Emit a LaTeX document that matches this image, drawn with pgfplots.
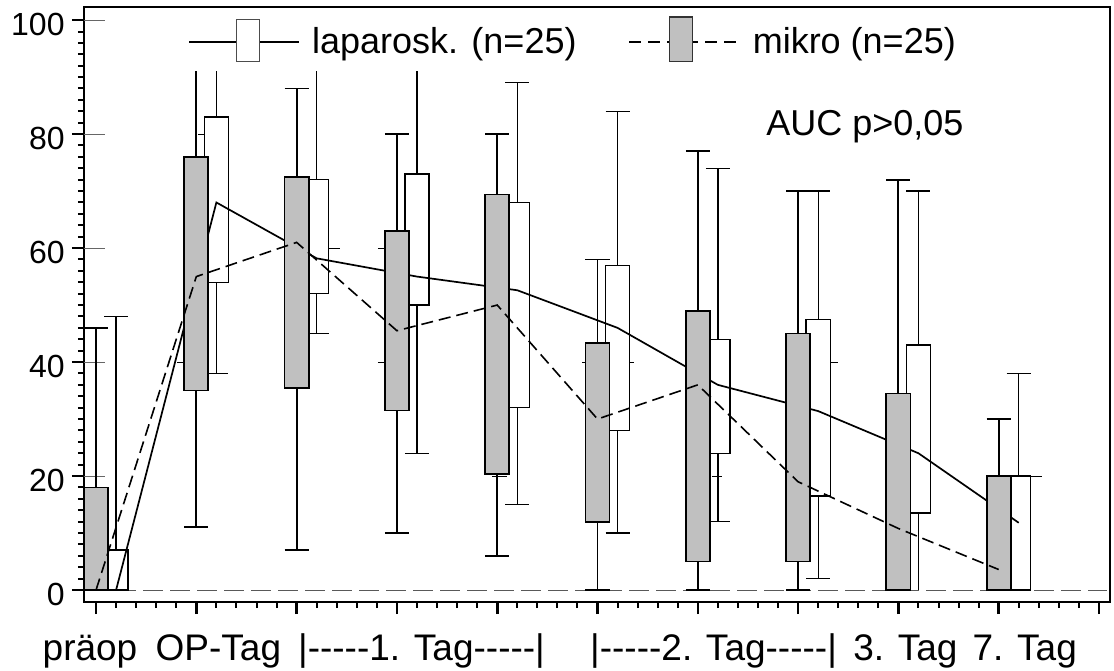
\documentclass[border=0pt]{standalone}
\usepackage{fontspec}
\setmainfont{Liberation Sans}
\usepackage{pgfplots}
\pgfplotsset{compat=1.18}
\definecolor{silver}{RGB}{192,192,192}
\newcommand{\hy}{\mbox{-}}
\begin{document}
\begin{tikzpicture}
\path[use as bounding box] (0,0) rectangle (557pt,335pt);
\begin{axis}[
  at={(42pt,34pt)}, anchor=south west,
  scale only axis, width=513pt, height=297.5pt,
  xmin=-0.12, xmax=10.11, ymin=-2.1, ymax=102.3,
  clip=false, unbounded coords=jump,
  axis line style={line width=0.7pt},
  tick pos=left, tick align=outside,
  xtick={0,1,...,10}, xticklabels={}, minor x tick num=4,
  ytick={0,20,...,100}, minor y tick num=9,
  major tick length=6pt, minor tick length=3pt,
  major tick style={line width=1.3pt, black},
  minor tick style={line width=1pt, black},
  extra y ticks={0,20,...,100}, extra y tick labels={},
  extra y tick style={tick align=inside, major tick length=10.5pt, major tick style={line width=0.5pt, black!60}},
  yticklabel style={font=\fontsize{16}{19}\selectfont, inner sep=0pt, xshift=-3.5pt, yshift=-2pt},
  /pgf/number format/assume math mode=true,
  legend columns=2,
  legend style={at={(axis cs:0.917,96.66)}, anchor=west, draw=none, fill=none, inner sep=0pt,
    font=\fontsize{18}{21}\selectfont,
    /tikz/every odd column/.append style={column sep=4pt},
    /tikz/every even column/.append style={column sep=24pt}},
  legend cell align=left,
]
% legend
\addlegendimage{legend image code/.code={
  \draw[line width=0.85pt, black] (0pt,0pt) -- (55pt,0pt);
  \draw[line width=0.5pt, draw=black!70, fill=white] (23.8pt,-9.7pt) rectangle (35.2pt,11.3pt);
}}
\addlegendentry{laparosk. (n=25)}
\addlegendimage{legend image code/.code={
  \draw[line width=0.8pt, black, dash pattern=on 6pt off 3.5pt] (0pt,0pt) -- (54pt,0pt);
  \draw[line width=0.6pt, draw=black!80, fill=silver] (20pt,-9.7pt) rectangle (31.5pt,12.5pt);
  \path (55.5pt,0pt);
}}
\addlegendentry{mikro (n=25)}

% zero reference line
\addplot[forget plot, black!65, line width=0.5pt, dash pattern=on 10pt off 3.5pt] coordinates {(0.2,0) (10.08,0)};

% ---- laparosk. (white) ----
\addplot[forget plot, black, line width=0.65pt] coordinates {
 (0.2,0) (0.2,48) (nan,nan) (1.2,38) (1.2,91) (nan,nan) (2.2,45) (2.2,91) (nan,nan)
 (3.2,24) (3.2,91) (nan,nan) (4.2,15) (4.2,89) (nan,nan) (5.2,10) (5.2,84) (nan,nan)
 (6.2,12) (6.2,74) (nan,nan) (7.2,2) (7.2,70) (nan,nan) (8.2,0) (8.2,70) (nan,nan)
 (9.2,0) (9.2,38)};
\addplot[forget plot, black, line width=0.65pt] coordinates {
 (0.08,48) (0.32,48) (nan,nan) (1.08,38) (1.32,38) (nan,nan) (2.08,45) (2.32,45) (nan,nan)
 (3.08,24) (3.32,24) (nan,nan) (4.08,15) (4.32,15) (nan,nan) (4.08,89) (4.32,89) (nan,nan)
 (5.08,10) (5.32,10) (nan,nan) (5.08,84) (5.32,84) (nan,nan) (6.08,12) (6.32,12) (nan,nan)
 (6.08,74) (6.32,74) (nan,nan) (7.08,2) (7.32,2) (nan,nan) (7.08,70) (7.32,70) (nan,nan)
 (8.08,70) (8.32,70) (nan,nan) (9.08,38) (9.32,38)};
\addplot[forget plot, draw=black, fill=white, line width=0.65pt] coordinates {(0.08,0) (0.32,0) (0.32,7) (0.08,7)} -- cycle;
\addplot[forget plot, draw=black, fill=white, line width=0.65pt] coordinates {(1.08,54) (1.32,54) (1.32,83) (1.08,83)} -- cycle;
\addplot[forget plot, draw=black, fill=white, line width=0.65pt] coordinates {(2.08,52) (2.32,52) (2.32,72) (2.08,72)} -- cycle;
\addplot[forget plot, draw=black, fill=white, line width=0.65pt] coordinates {(3.08,50) (3.32,50) (3.32,73) (3.08,73)} -- cycle;
\addplot[forget plot, draw=black, fill=white, line width=0.65pt] coordinates {(4.08,32) (4.32,32) (4.32,68) (4.08,68)} -- cycle;
\addplot[forget plot, draw=black, fill=white, line width=0.65pt] coordinates {(5.08,28) (5.32,28) (5.32,57) (5.08,57)} -- cycle;
\addplot[forget plot, draw=black, fill=white, line width=0.65pt] coordinates {(6.08,24) (6.32,24) (6.32,44) (6.08,44)} -- cycle;
\addplot[forget plot, draw=black, fill=white, line width=0.65pt] coordinates {(7.08,16.5) (7.32,16.5) (7.32,47.5) (7.08,47.5)} -- cycle;
\addplot[forget plot, draw=black, fill=white, line width=0.65pt] coordinates {(8.08,13.5) (8.32,13.5) (8.32,43) (8.08,43)} -- cycle;
\addplot[forget plot, draw=black, fill=white, line width=0.65pt] coordinates {(9.08,0) (9.32,0) (9.32,20) (9.08,20)} -- cycle;

% mean line laparosk.
\addplot[forget plot, black, line width=0.85pt] coordinates {
 (0.2,0) (1.2,68) (2.2,58.2) (3.2,55) (4.2,52.6) (5.2,46) (6.2,36) (7.2,31.4) (8.2,24) (9.2,11.8)};

% ---- mikro (gray) ----
\addplot[forget plot, black, line width=0.9pt] coordinates {
 (0,0) (0,46) (nan,nan) (1,11) (1,91) (nan,nan) (2,7) (2,88) (nan,nan)
 (3,10) (3,80) (nan,nan) (4,6) (4,80) (nan,nan) (5,0) (5,58) (nan,nan)
 (6,0) (6,77) (nan,nan) (7,0) (7,70) (nan,nan) (8,0) (8,72) (nan,nan)
 (9,0) (9,30)};
\addplot[forget plot, black, line width=0.9pt] coordinates {
 (-0.12,46) (0.12,46) (nan,nan) (0.88,11) (1.12,11) (nan,nan) (1.88,7) (2.12,7) (nan,nan)
 (1.88,88) (2.12,88) (nan,nan) (2.88,10) (3.12,10) (nan,nan) (2.88,80) (3.12,80) (nan,nan)
 (3.88,6) (4.12,6) (nan,nan) (3.88,80) (4.12,80) (nan,nan) (4.88,0) (5.12,0) (nan,nan)
 (4.88,58) (5.12,58) (nan,nan) (5.88,0) (6.12,0) (nan,nan) (5.88,77) (6.12,77) (nan,nan)
 (6.88,0) (7.12,0) (nan,nan) (6.88,70) (7.12,70) (nan,nan) (7.88,72) (8.12,72) (nan,nan)
 (8.88,30) (9.12,30)};
\addplot[forget plot, draw=black, fill=silver, line width=0.9pt] coordinates {(-0.12,0) (0.12,0) (0.12,18) (-0.12,18)} -- cycle;
\addplot[forget plot, draw=black, fill=silver, line width=0.9pt] coordinates {(0.88,35) (1.12,35) (1.12,76) (0.88,76)} -- cycle;
\addplot[forget plot, draw=black, fill=silver, line width=0.9pt] coordinates {(1.88,35.4) (2.12,35.4) (2.12,72.5) (1.88,72.5)} -- cycle;
\addplot[forget plot, draw=black, fill=silver, line width=0.9pt] coordinates {(2.88,31.5) (3.12,31.5) (3.12,63) (2.88,63)} -- cycle;
\addplot[forget plot, draw=black, fill=silver, line width=0.9pt] coordinates {(3.88,20.4) (4.12,20.4) (4.12,69.4) (3.88,69.4)} -- cycle;
\addplot[forget plot, draw=black, fill=silver, line width=0.9pt] coordinates {(4.88,12) (5.12,12) (5.12,43.4) (4.88,43.4)} -- cycle;
\addplot[forget plot, draw=black, fill=silver, line width=0.9pt] coordinates {(5.88,5) (6.12,5) (6.12,49) (5.88,49)} -- cycle;
\addplot[forget plot, draw=black, fill=silver, line width=0.9pt] coordinates {(6.88,5) (7.12,5) (7.12,45) (6.88,45)} -- cycle;
\addplot[forget plot, draw=black, fill=silver, line width=0.9pt] coordinates {(7.88,0) (8.12,0) (8.12,34.5) (7.88,34.5)} -- cycle;
\addplot[forget plot, draw=black, fill=silver, line width=0.9pt] coordinates {(8.88,0) (9.12,0) (9.12,20) (8.88,20)} -- cycle;

% mean line mikro
\addplot[forget plot, black, line width=0.8pt, dash pattern=on 6pt off 3pt] coordinates {
 (0,0) (1,55) (2,61) (3,45.5) (4,50) (5,30) (6,36) (7,19) (8,10.8) (9,3.6)};

% small stray tick marks
\addplot[forget plot, black, line width=0.5pt] coordinates {
 (1.02,80) (1.08,80) (nan,nan) (2.32,60) (2.43,60) (nan,nan) (2.81,60) (2.88,60) (nan,nan)
 (0.81,40) (0.88,40) (nan,nan) (2.81,40) (2.88,40) (nan,nan) (4.85,40) (4.88,40) (nan,nan)
 (5.32,40) (5.36,40) (nan,nan) (7.32,40) (7.40,40) (nan,nan) (3.95,20) (4.1,20) (nan,nan)
 (6.14,20) (6.24,20) (nan,nan) (9.32,20) (9.43,20)};

% texts
\node[anchor=base, font=\fontsize{18}{21}\selectfont] at (axis cs:7.667,79.8) {AUC p>0,05};
\node[anchor=base, font=\fontsize{18.5}{22}\selectfont] at (axis cs:-0.06,-12.28) {präop};
\node[anchor=base, font=\fontsize{18.5}{22}\selectfont] at (axis cs:1.22,-12.28) {OP-Tag};
\node[anchor=base, font=\fontsize{18.5}{22}\selectfont] at (axis cs:3.245,-12.28) {|\hy\hy\hy\hy\hy1. Tag\hy\hy\hy\hy\hy|};
\node[anchor=base, font=\fontsize{18.5}{22}\selectfont] at (axis cs:6.157,-12.28) {|\hy\hy\hy\hy\hy2. Tag\hy\hy\hy\hy\hy|};
\node[anchor=base, font=\fontsize{18.5}{22}\selectfont] at (axis cs:8.07,-12.28) {3. Tag};
\node[anchor=base, font=\fontsize{18.5}{22}\selectfont] at (axis cs:9.26,-12.28) {7. Tag};
\end{axis}
\end{tikzpicture}
\end{document}
